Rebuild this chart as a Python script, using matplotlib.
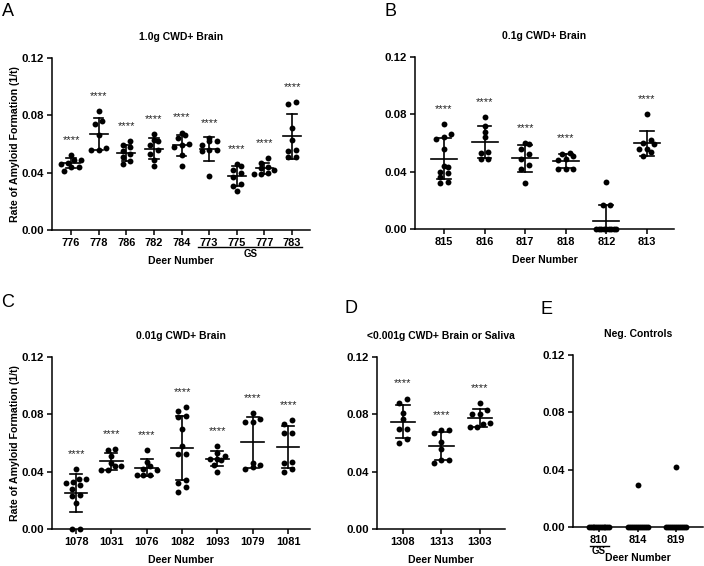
import numpy as np
import matplotlib
matplotlib.use("Agg")
import matplotlib.pyplot as plt

plt.rcParams['font.family'] = ['Liberation Sans', 'DejaVu Sans']
plt.rcParams['font.weight'] = 'bold'

# Panel A: 1.0g CWD+ Brain
a_labels = ['776', '778', '786', '782', '784', '773', '775', '777', '783']
a_values = [
    [0.052, 0.049, 0.049, 0.047, 0.046, 0.044, 0.044, 0.041],
    [0.083, 0.076, 0.074, 0.066, 0.057, 0.056, 0.056],
    [0.062, 0.059, 0.058, 0.055, 0.053, 0.051, 0.048, 0.046],
    [0.067, 0.063, 0.062, 0.059, 0.056, 0.053, 0.049, 0.045],
    [0.068, 0.066, 0.064, 0.060, 0.059, 0.058, 0.052, 0.045],
    [0.064, 0.062, 0.062, 0.059, 0.056, 0.056, 0.055, 0.038],
    [0.046, 0.045, 0.042, 0.040, 0.037, 0.032, 0.031, 0.027],
    [0.050, 0.047, 0.044, 0.043, 0.042, 0.040, 0.039, 0.039],
    [0.089, 0.088, 0.071, 0.063, 0.056, 0.055, 0.051, 0.051],
]
a_stars = ['****'] * 9

# Panel B: 0.1g CWD+ Brain
b_labels = ['815', '816', '817', '818', '812', '813']
b_values = [
    [0.073, 0.066, 0.064, 0.063, 0.056, 0.044, 0.043, 0.040, 0.039, 0.036, 0.033, 0.032],
    [0.078, 0.072, 0.068, 0.064, 0.054, 0.053, 0.049, 0.049],
    [0.060, 0.059, 0.056, 0.052, 0.049, 0.045, 0.042, 0.032],
    [0.053, 0.052, 0.051, 0.049, 0.048, 0.042, 0.042, 0.042],
    [0.033, 0.017, 0.017, 0, 0, 0, 0, 0, 0, 0, 0, 0],
    [0.080, 0.062, 0.060, 0.059, 0.056, 0.056, 0.054, 0.051],
]
b_stars = ['****', '****', '****', '****', '', '****']

# Panel C: 0.01g CWD+ Brain
c_labels = ['1078', '1031', '1076', '1082', '1093', '1079', '1081']
c_values = [
    [0.042, 0.035, 0.035, 0.033, 0.032, 0.031, 0.028, 0.024, 0.023, 0.018, 0.0, 0.0],
    [0.056, 0.055, 0.051, 0.046, 0.044, 0.044, 0.041, 0.041],
    [0.055, 0.047, 0.044, 0.042, 0.041, 0.038, 0.038, 0.038],
    [0.085, 0.082, 0.079, 0.078, 0.070, 0.058, 0.052, 0.052, 0.034, 0.032, 0.029, 0.026],
    [0.058, 0.053, 0.051, 0.049, 0.049, 0.048, 0.045, 0.040],
    [0.081, 0.077, 0.075, 0.075, 0.046, 0.045, 0.043, 0.042],
    [0.076, 0.073, 0.067, 0.067, 0.047, 0.046, 0.042, 0.040],
]
c_stars = ['****'] * 7

# Panel D: <0.001g CWD+ Brain or Saliva
d_labels = ['1308', '1313', '1303']
d_values = [
    [0.091, 0.088, 0.081, 0.077, 0.070, 0.070, 0.063, 0.060],
    [0.069, 0.069, 0.067, 0.061, 0.056, 0.048, 0.048, 0.046],
    [0.088, 0.083, 0.080, 0.080, 0.074, 0.073, 0.071, 0.071],
]
d_stars = ['****'] * 3

# Panel E: Neg. Controls
e_labels = ['810', '814', '819']
e_values = [
    [0] * 12,
    [0.029] + [0] * 11,
    [0.042] + [0] * 11,
]
e_stars = ['', '', '']

W, H = 704, 566
fig = plt.figure(figsize=(W / 100, H / 100), dpi=100)


def axes_at(left, top, right, bottom):
    return fig.add_axes([left / W, 1 - bottom / H, (right - left) / W, (bottom - top) / H])


def swarm_offsets(vals, ppx, ppy, gap=7.5, max_span=20, row_px=5):
    # spread points that sit at about the same height, GraphPad style
    order = np.argsort(vals)
    offs = np.zeros(len(vals))
    rows, cur = [], [order[0]]
    for i in order[1:]:
        if (vals[i] - vals[cur[0]]) * ppy < row_px:
            cur.append(i)
        else:
            rows.append(cur)
            cur = [i]
    rows.append(cur)
    for row in rows:
        k = len(row)
        step = gap if k == 1 else min(gap, max_span / (k - 1))
        for j, i in enumerate(row):
            offs[i] = (j - (k - 1) / 2) * step / ppx
    return offs


def draw_panel(ax, labels, values, stars, title, xlim, bars=True):
    ax.set_xlim(*xlim)
    ax.set_ylim(0, 0.12)
    pos = ax.get_position()
    ppx = pos.width * W / (xlim[1] - xlim[0])
    ppy = pos.height * H / 0.12
    for i, vals in enumerate(values):
        vals = np.array(vals, dtype=float)
        xs = i + swarm_offsets(vals, ppx, ppy)
        ax.scatter(xs, vals, s=18, color='black', zorder=3, clip_on=False, linewidths=0)
        if bars:
            m = vals.mean()
            sd = vals.std(ddof=1)
            ax.plot([i - 0.32, i + 0.32], [m, m], color='black', lw=1.2, zorder=4)
            ax.plot([i, i], [m - sd, m + sd], color='black', lw=1.2, zorder=4)
            for y in (m - sd, m + sd):
                ax.plot([i - 0.17, i + 0.17], [y, y], color='black', lw=1.2, zorder=4)
        if stars[i]:
            ax.text(i, vals.max() + 0.0105, stars[i], ha='center', va='center',
                    fontsize=8, fontweight='normal', color='#222222')
    ax.set_xticks(range(len(labels)))
    ax.set_xticklabels(labels)
    ax.set_yticks([0, 0.04, 0.08, 0.12])
    ax.set_yticklabels(['0.00', '0.04', '0.08', '0.12'])
    for side in ('top', 'right'):
        ax.spines[side].set_visible(False)
    for side in ('left', 'bottom'):
        ax.spines[side].set_linewidth(1.1)
    ax.tick_params(length=3.5, width=1.1, pad=2)
    ax.tick_params(axis='y', labelsize=8.2)
    ax.tick_params(axis='x', labelsize=7.9)
    ax.text(0.5, 1.12, title, transform=ax.transAxes, ha='center', va='center', fontsize=7.5)
    ax.text(0.5, -0.18, 'Deer Number', transform=ax.transAxes, ha='center', va='center', fontsize=7.6)


ylab = 'Rate of Amyloid Formation (1/t)'

axA = axes_at(52, 58, 310, 230)
draw_panel(axA, a_labels, a_values, a_stars, '1.0g CWD+ Brain', (-0.69, 8.65))
axA.plot([4.6, 8.37], [-0.099, -0.099], color='black', lw=1.0, clip_on=False,
         transform=axA.get_xaxis_transform())
axA.text(6.5, -0.14, 'GS', transform=axA.get_xaxis_transform(), ha='center', va='center', fontsize=7)

axB = axes_at(415, 57, 674, 229)
draw_panel(axB, b_labels, b_values, b_stars, '0.1g CWD+ Brain', (-0.714, 5.665))

axC = axes_at(52, 357, 310, 529)
draw_panel(axC, c_labels, c_values, c_stars, '0.01g CWD+ Brain', (-0.68, 6.62))

axD = axes_at(377, 357, 505, 529)
draw_panel(axD, d_labels, d_values, d_stars, '<0.001g CWD+ Brain or Saliva', (-0.675, 2.65))

axE = axes_at(573, 355, 703, 527)
draw_panel(axE, e_labels, e_values, e_stars, 'Neg. Controls', (-0.675, 2.70), bars=False)
axE.plot([-0.23, 0.27], [-0.108, -0.108], color='black', lw=1.0, clip_on=False,
         transform=axE.get_xaxis_transform())
axE.text(0, -0.142, 'GS', transform=axE.get_xaxis_transform(), ha='center', va='center', fontsize=7)

for y in (144, 443):
    fig.text(15 / W, 1 - y / H, ylab, rotation=90, ha='center', va='center', fontsize=7.6)

for letter, x, y in [('A', 8, 11.5), ('B', 391, 11.5), ('C', 8, 302.5), ('D', 351, 308.5), ('E', 546, 309)]:
    fig.text(x / W, 1 - y / H, letter, ha='center', va='center', fontsize=13, fontweight='normal')

fig.savefig('out.png', dpi=100)
